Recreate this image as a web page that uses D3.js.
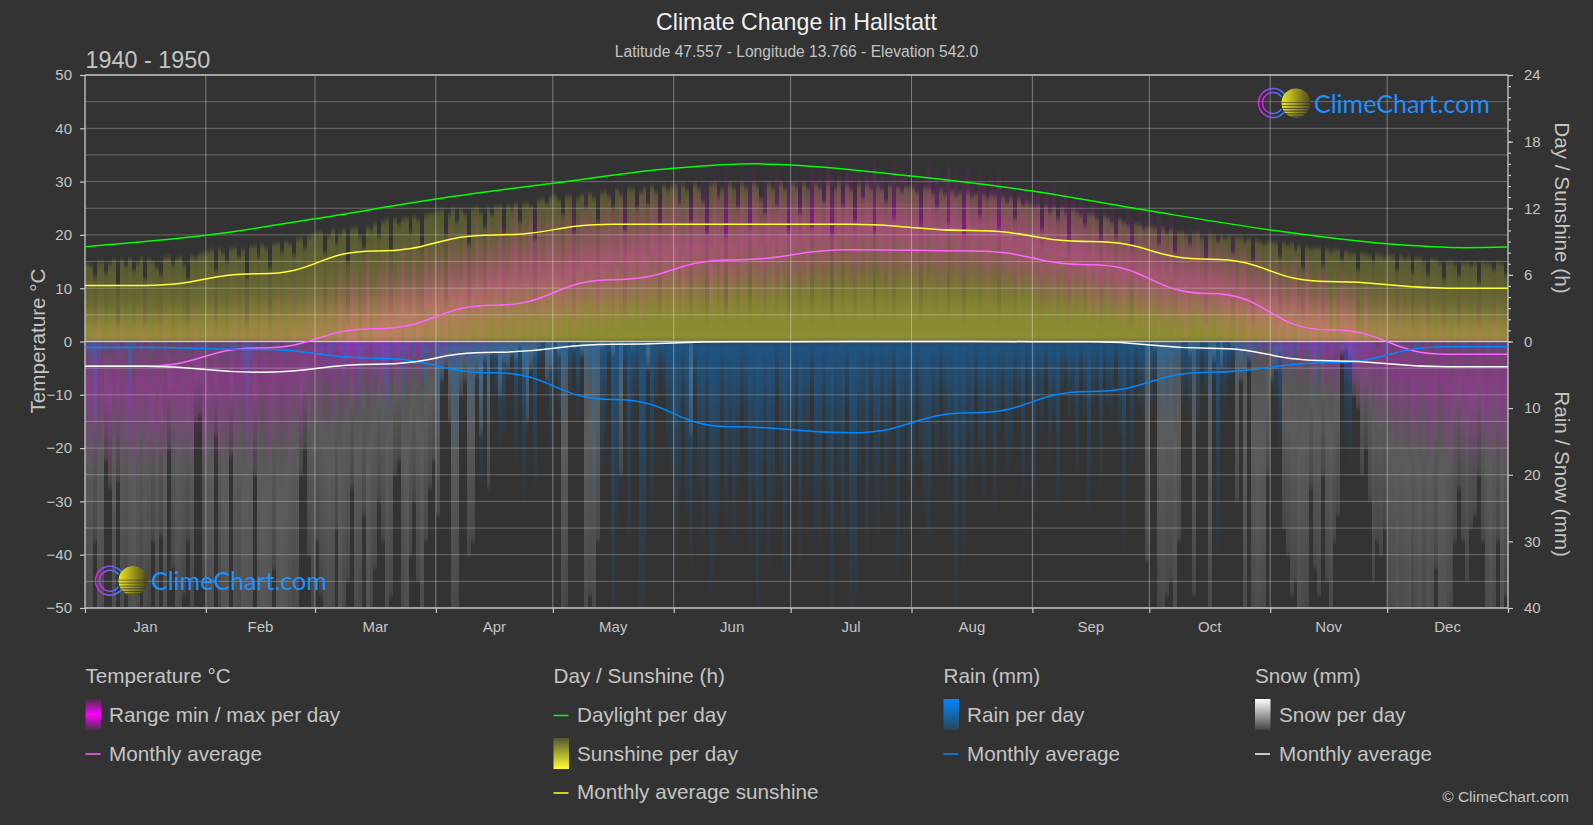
<!DOCTYPE html>
<html>
<head>
<meta charset="utf-8">
<title>Climate Change in Hallstatt</title>
<script src="https://cdn.jsdelivr.net/npm/d3@7"></script>
<style>
  html, body { margin: 0; padding: 0; background: #333333; overflow: hidden; }
  svg { display: block; }
  text { font-family: "Liberation Sans", Arial, sans-serif; fill: #c4c4c4; }
  .domain { display: none; }
</style>
</head>
<body>
<svg id="chart" width="1593" height="825"></svg>
<script>
const monthNames = ['Jan', 'Feb', 'Mar', 'Apr', 'May', 'Jun', 'Jul', 'Aug', 'Sep', 'Oct', 'Nov', 'Dec'];
const monthDays = [31, 28, 31, 30, 31, 30, 31, 31, 30, 31, 30, 31];

// monthly averages
const tempAvg = [-4.6, -1.2, 2.4, 6.8, 11.6, 15.3, 17.2, 17.0, 14.4, 9.0, 2.2, -2.4];
const sunAvg = [5.05, 6.1, 8.15, 9.6, 10.55, 10.55, 10.55, 10.0, 9.0, 7.4, 5.4, 4.8];
const rainAvg = [0.9, 1.2, 2.5, 4.7, 8.7, 12.8, 13.7, 10.7, 7.5, 4.6, 3.2, 0.8];
const snowAvg = [3.7, 4.6, 3.4, 1.6, 0.4, 0.05, 0, 0, 0.05, 1.0, 2.9, 3.8];

// daylight hours read at these days of the year
const daylightDays = [0, 31, 59, 90, 120, 151, 172, 181, 212, 243, 273, 304, 334, 354, 365];
const daylightHours = [8.54, 9.56, 11.05, 12.83, 14.25, 15.6, 16.0, 15.9, 14.9, 13.55, 11.77, 10.05, 8.8, 8.45, 8.5];

const sunDaily = [
  7.0,6.8,5.8,7.1,7.2,6.2,7.0,7.3,5.0,7.3,6.8,7.4,6.4,7.1,7.5,5.6,7.4,7.2,6.6,6.0,7.5,7.6,6.9,7.4,7.6,6.9,5.6,7.7,7.5,7.9,8.0,
  8.1,8.2,6.4,8.3,8.0,7.2,8.3,8.4,7.6,8.2,5.8,8.5,8.6,7.6,8.7,8.4,6.6,8.8,8.9,8.1,9.0,8.8,7.8,9.2,9.3,8.4,9.4,9.6,
  9.8,9.9,8.0,9.5,10.0,8.8,9.7,10.0,7.2,10.1,10.2,9.4,8.4,10.3,10.0,10.6,9.4,10.8,10.9,8.2,11.0,10.6,11.0,11.1,9.8,11.2,10.9,8.6,11.4,11.5,11.6,
  11.7,11.8,9.6,11.4,11.9,10.8,11.8,11.5,8.8,11.9,12.0,11.6,10.2,12.0,11.4,12.1,12.2,9.8,12.2,11.9,12.4,10.8,12.4,12.5,12.1,9.2,12.7,12.8,12.4,13.0,
  13.1,12.7,11.4,13.1,13.1,9.8,12.8,13.2,12.0,13.3,12.9,10.8,13.4,13.5,13.0,12.0,13.6,13.2,10.0,13.7,13.7,12.0,13.4,13.8,12.4,13.9,13.5,10.6,14.0,13.6,14.0,
  14.1,12.4,14.1,13.6,10.8,14.1,13.7,12.6,9.8,14.1,14.2,13.0,13.7,9.4,14.2,13.8,12.0,14.2,13.8,10.4,14.2,13.9,12.8,11.4,14.2,13.8,12.2,14.2,13.7,9.8,
  14.2,13.8,11.6,14.2,13.8,10.2,14.2,13.7,12.6,14.2,9.6,13.8,14.2,12.2,14.1,13.6,10.8,14.1,12.9,14.1,13.7,9.8,14.0,13.6,12.6,14.0,11.0,13.9,13.5,13.9,13.9,
  13.8,13.4,10.4,13.8,13.7,13.3,12.0,13.6,13.2,10.6,13.5,13.1,13.4,9.6,13.4,13.0,13.3,11.2,13.2,12.8,13.1,13.1,10.0,13.0,12.5,12.9,11.0,12.8,12.3,12.6,12.4,
  12.1,12.2,10.0,12.1,11.7,12.0,11.0,11.9,11.5,9.2,11.8,11.7,11.3,10.4,11.5,11.4,11.0,9.2,11.2,11.1,10.7,9.4,10.9,10.8,10.4,8.6,10.6,10.5,10.1,10.3,
  10.3,10.2,8.8,10.1,9.8,10.0,8.0,9.9,9.8,9.5,8.8,9.7,9.7,9.3,7.4,9.6,9.5,9.0,9.5,9.2,9.4,8.0,9.3,9.3,9.0,9.2,7.2,9.1,9.0,8.8,9.0,
  9.0,8.9,7.6,8.9,8.6,8.8,8.2,8.6,6.6,8.5,8.3,8.4,8.4,6.8,8.3,8.1,8.2,8.2,7.4,8.1,7.9,8.0,6.4,8.0,7.9,7.7,7.2,7.9,7.8,7.6,
  7.8,7.7,6.4,7.7,7.4,7.6,6.2,7.5,7.5,7.2,6.0,7.4,7.3,7.1,5.6,7.2,7.2,6.9,6.0,7.1,7.1,6.8,7.1,5.4,7.1,7.0,6.9,6.4,7.1,7.0,6.0
];

const tempMaxDaily = [
  7,5,8,9,6,4,7,8,5,9,6,3,5,8,7,9,6,4,7,5,8,6,3,7,9,6,5,8,10,7,6,
  7,9,6,10,8,5,9,11,7,10,8,12,9,6,10,11,8,9,12,10,7,11,13,9,10,12,14,11,
  12,14,10,15,13,11,16,14,12,17,15,13,16,18,14,12,17,15,19,16,13,18,20,15,17,19,14,18,21,17,19,
  18,20,16,22,19,21,17,23,20,18,24,21,19,25,22,20,26,23,21,24,27,22,25,23,28,24,26,22,27,25,
  24,26,22,27,25,28,23,26,29,25,27,24,28,26,29,27,25,30,28,26,29,27,30,28,26,31,29,27,30,28,31,
  29,31,27,30,28,32,29,31,30,28,32,30,29,33,31,28,30,32,29,31,33,30,28,32,31,29,33,31,30,32,
  31,33,30,32,29,34,31,33,30,35,32,30,33,31,34,32,30,33,31,34,32,35,31,33,30,32,34,31,33,32,30,
  31,33,30,32,34,31,33,30,32,35,31,33,30,32,34,31,29,33,31,30,32,30,33,29,31,30,28,31,29,30,28,
  29,31,27,30,28,31,26,29,30,27,28,26,29,27,25,28,26,24,27,25,26,24,25,23,26,24,22,25,23,24,
  24,22,25,23,21,24,22,20,23,21,22,20,23,19,21,22,18,21,19,20,18,21,17,19,20,16,19,17,18,16,17,
  16,18,15,17,14,16,18,13,15,17,14,12,15,16,13,11,14,12,15,13,11,14,12,10,13,11,12,10,13,11,
  11,9,12,10,8,11,9,7,10,12,8,10,7,9,11,8,6,9,7,10,8,6,9,11,7,8,6,9,10,7,8
];

const tempMinDaily = [
  -24,-22,-26,-20,-25,-23,-27,-21,-24,-19,-26,-22,-28,-24,-20,-25,-23,-27,-21,-26,-22,-24,-18,-25,-23,-20,-26,-24,-22,-19,-23,
  -24,-21,-25,-22,-26,-20,-23,-25,-19,-22,-24,-26,-21,-23,-18,-22,-25,-20,-23,-19,-21,-24,-18,-20,-22,-17,-19,-16,
  -15,-18,-13,-16,-19,-12,-14,-17,-11,-15,-13,-16,-10,-12,-15,-9,-13,-11,-14,-8,-10,-12,-7,-11,-9,-6,-10,-8,-5,-7,-6,
  -6,-4,-7,-3,-5,-6,-2,-4,-5,-1,-3,-4,-2,-3,0,-2,-3,-1,-2,0,-1,-2,1,-1,0,-2,1,0,-1,1,
  0,-1,1,0,2,-1,1,2,0,3,1,2,0,3,2,4,1,3,2,4,3,5,2,4,3,5,4,6,3,5,4,
  4,6,3,5,7,4,6,5,7,3,6,8,5,7,4,6,8,5,7,9,6,8,5,7,9,6,8,7,9,8,
  7,9,8,10,7,9,11,8,10,9,11,8,10,12,9,11,8,10,12,9,11,10,12,9,11,8,10,12,9,11,10,
  10,8,11,9,12,10,8,11,9,10,12,9,11,8,10,9,11,8,10,7,9,11,8,10,7,9,8,6,9,7,8,
  6,7,5,8,6,4,7,5,6,3,5,7,4,6,3,5,2,4,6,3,5,2,4,1,3,5,2,3,1,2,
  1,3,0,2,1,3,0,2,1,-1,1,2,0,1,-1,0,2,-1,0,-2,-1,0,-3,-1,-2,-4,-2,-3,-5,-3,-4,
  -5,-4,-7,-5,-8,-6,-4,-9,-7,-5,-10,-8,-6,-11,-9,-12,-8,-13,-6,-7,-8,-11,-13,-15,-12,-16,-14,-17,-15,-18,
  -17,-20,-18,-22,-19,-21,-24,-20,-23,-18,-22,-25,-21,-19,-24,-22,-26,-20,-23,-21,-25,-22,-27,-20,-24,-22,-26,-23,-21,-25,-23
];

const rainDaily = [
  2,6,16,3,1,2,1,1,3,0,2,14,3,0,2,0,1,2,0,1,2,0,1,1,2,0,1,0,1,1,2,
  1,0,1,0,2,1,2,3,0,6,16,4,1,0,2,1,0,1,2,0,3,1,0,2,1,0,1,0,
  2,4,1,6,3,1,2,8,4,2,3,10,4,2,1,6,3,10,14,3,2,4,12,3,2,5,1,6,9,3,2,
  14,8,4,6,18,16,6,4,14,10,8,22,6,12,5,8,16,14,6,4,18,6,24,14,5,22,4,3,8,16,
  6,10,14,6,8,4,12,3,10,6,24,8,20,14,4,42,28,10,6,30,12,8,44,42,6,26,10,5,8,16,20,
  36,24,12,26,34,8,22,30,14,38,33,26,12,28,20,30,22,10,16,32,24,42,30,18,34,26,8,22,36,18,
  24,12,34,18,22,8,29,30,14,26,42,16,22,30,10,44,40,20,16,32,12,24,30,14,26,18,8,36,20,14,28,
  22,10,18,26,30,14,20,8,16,24,18,42,20,34,14,22,8,18,24,12,16,26,14,10,20,18,8,12,24,6,10,
  28,10,14,6,18,12,25,8,6,12,10,20,6,12,26,10,8,22,6,10,12,4,14,32,8,18,6,10,12,6,
  12,6,10,14,8,16,6,4,10,8,12,6,14,4,8,12,6,32,8,10,6,4,8,3,6,4,3,2,3,1,2,
  2,8,16,4,3,6,3,2,1,4,2,10,4,2,1,3,2,1,2,14,18,6,2,3,1,2,1,0,1,2,
  1,0,1,2,0,1,0,3,1,0,1,0,2,1,0,1,0,0,1,2,1,0,1,1,0,2,1,0,1,1,0
];

const snowDaily = [
  44,46,30,52,48,18,22,50,21,45,38,52,60,42,36,48,40,30,46,29,55,16,34,50,44,38,30,42,12,11,36,
  48,55,14,40,60,66,17,52,44,70,62,58,20,64,72,68,60,34,70,74,66,50,42,48,20,16,32,40,
  30,38,45,52,46,28,60,42,36,22,50,44,26,58,40,34,24,30,46,38,20,18,42,52,32,24,36,48,30,22,18,
  26,6,4,12,44,42,8,6,32,30,5,14,3,22,2,2,8,3,4,2,3,1,5,12,4,2,1,0,6,4,
  0,2,44,40,0,1,0,2,44,38,42,30,1,0,0,2,0,20,0,0,1,0,0,0,4,0,0,0,0,0,0,
  0,0,0,0,14,0,0,0,0,0,0,0,0,0,0,0,0,0,0,0,0,0,0,0,0,0,0,0,0,0,
  0,0,0,0,0,0,0,0,0,0,0,0,0,0,0,0,0,0,0,0,0,0,0,0,0,0,0,0,0,0,0,
  0,0,0,0,0,0,0,0,0,0,0,0,0,0,0,0,0,0,0,0,0,0,0,0,0,0,0,0,0,0,0,
  0,0,0,0,0,0,0,0,0,0,0,0,0,0,0,0,0,0,0,0,0,0,0,0,0,0,0,0,0,33,
  0,1,40,42,38,36,46,30,0,0,2,38,1,0,0,42,3,0,4,0,0,1,24,6,45,3,42,50,48,44,20,
  6,4,2,28,32,38,36,50,44,40,22,34,38,20,36,42,30,26,2,1,3,8,10,20,16,24,36,30,32,28,
  44,48,55,46,52,58,40,48,60,42,56,50,34,62,60,48,40,30,22,30,36,28,26,20,30,46,52,44,30,58,38
];

const svg = d3.select('#chart');
const plot = { left: 85, right: 1508, top: 75, bottom: 608 };

const x = d3.scaleLinear().domain([0, 365]).range([plot.left, plot.right]);
const yTemp = d3.scaleLinear().domain([-50, 50]).range([plot.bottom, plot.top]);
const zero = yTemp(0);
const yHours = d3.scaleLinear().domain([0, 24]).range([zero, plot.top]);
const yMm = d3.scaleLinear().domain([0, 40]).range([zero, plot.bottom]);

const monthStarts = d3.cumsum([0].concat(monthDays));
const monthMids = monthDays.map((d, i) => monthStarts[i] + d / 2);

// gradients
const defs = svg.append('defs');
const addGradient = (id, stops) => {
  const g = defs.append('linearGradient').attr('id', id)
    .attr('x1', 0).attr('y1', 0).attr('x2', 0).attr('y2', 1);
  stops.forEach(s => g.append('stop')
    .attr('offset', s[0]).attr('stop-color', s[1]).attr('stop-opacity', s[2]));
};
addGradient('sunBar', [[0, '#ffff33', 0.18], [0.5, '#ffff33', 0.27], [0.8, '#ffff33', 0.42], [1, '#ffff33', 0.45]]);
addGradient('tempBar', [[0, '#ff00ff', 0], [0.5, '#ff00ff', 0.42], [1, '#ff00ff', 0]]);
addGradient('tempBarCold', [[0, '#ff00ff', 0], [0.5, '#ff00ff', 0.28], [1, '#ff00ff', 0]]);
addGradient('rainBar', [[0, '#0088ff', 0.4], [0.5, '#0088ff', 0.16], [1, '#0088ff', 0.03]]);
addGradient('snowBar', [[0, '#ffffff', 0.15], [0.35, '#ffffff', 0.2], [1, '#ffffff', 0.1]]);
addGradient('tempSwatch', [[0, '#ff00ff', 0.1], [0.5, '#ff00ff', 1], [1, '#ff00ff', 0.1]]);
addGradient('sunSwatch', [[0, '#55552f', 1], [1, '#ffff33', 1]]);
addGradient('rainSwatch', [[0, '#0088ff', 1], [1, '#2a4558', 1]]);
addGradient('snowSwatch', [[0, '#ffffff', 1], [1, '#444444', 1]]);

const addClip = (id, top, bottom) => defs.append('clipPath').attr('id', id).append('rect')
  .attr('x', plot.left).attr('y', top)
  .attr('width', plot.right - plot.left).attr('height', bottom - top);
addClip('plotClip', plot.top, plot.bottom);
addClip('upperClip', plot.top, zero);
addClip('lowerClip', zero, plot.bottom);

const soft = defs.append('filter').attr('id', 'soft')
  .attr('filterUnits', 'userSpaceOnUse')
  .attr('x', 0).attr('y', 0).attr('width', 1593).attr('height', 825)
  .attr('color-interpolation-filters', 'sRGB');
soft.append('feGaussianBlur').attr('stdDeviation', '0.6 2.5');

// daily bars, softened so the columns melt together at their ends
const barLayer = (clipId, values, attrs) => {
  const g = svg.append('g').attr('clip-path', `url(#${clipId})`)
    .append('g').attr('filter', 'url(#soft)').attr('shape-rendering', 'crispEdges');
  g.selectAll('rect').data(values).enter().append('rect')
    .attr('x', (d, i) => x(i)).attr('width', x(1) - x(0))
    .attr('y', attrs.y).attr('height', attrs.height)
    .attr('fill', attrs.fill);
};

barLayer('lowerClip', snowDaily, { y: zero, height: d => yMm(d) - zero, fill: 'url(#snowBar)' });
barLayer('lowerClip', rainDaily, { y: zero, height: d => yMm(d) - zero, fill: 'url(#rainBar)' });
barLayer('plotClip', tempMaxDaily, {
  y: d => yTemp(d),
  height: (d, i) => yTemp(tempMinDaily[i]) - yTemp(d),
  fill: (d, i) => d + tempMinDaily[i] < 0 ? 'url(#tempBarCold)' : 'url(#tempBar)'
});
barLayer('upperClip', sunDaily, { y: d => yHours(d), height: d => zero - yHours(d), fill: 'url(#sunBar)' });

// grid
const grid = svg.append('g');
grid.selectAll('.h').data(d3.range(-45, 50, 5).filter(d => d !== 0)).enter().append('line')
  .attr('x1', plot.left).attr('x2', plot.right)
  .attr('y1', d => yTemp(d)).attr('y2', d => yTemp(d))
  .attr('stroke', '#ffffff').attr('stroke-opacity', 0.28).attr('stroke-width', 1);
grid.selectAll('.v').data(monthStarts.slice(1, 12)).enter().append('line')
  .attr('y1', plot.top).attr('y2', plot.bottom)
  .attr('x1', d => x(d)).attr('x2', d => x(d))
  .attr('stroke', '#ffffff').attr('stroke-opacity', 0.36).attr('stroke-width', 1);

// frame
const frame = svg.append('g').attr('stroke', '#c8c8c8').attr('stroke-width', 1.3);
[plot.top, zero, plot.bottom].forEach(y => frame.append('line')
  .attr('x1', plot.left).attr('x2', plot.right).attr('y1', y).attr('y2', y));
[plot.left, plot.right].forEach(v => frame.append('line')
  .attr('x1', v).attr('x2', v).attr('y1', plot.top).attr('y2', plot.bottom));

// axes
const styleAxis = g => {
  g.selectAll('line').attr('stroke', '#c8c8c8').attr('stroke-width', 1.2);
  g.selectAll('text').style('font-size', '15px').style('fill', '#c4c4c4');
};

svg.append('g').attr('transform', `translate(${plot.left},0)`)
  .call(d3.axisLeft(yTemp).tickValues(d3.range(-50, 51, 10)).tickSize(5).tickPadding(8))
  .call(styleAxis);

svg.append('g').attr('transform', `translate(${plot.right},0)`)
  .call(d3.axisRight(yHours).tickValues(d3.range(0, 25, 6)).tickSize(5).tickPadding(11))
  .call(styleAxis);

svg.append('g').attr('transform', `translate(${plot.right},0)`)
  .call(d3.axisRight(yHours).tickValues(d3.range(0, 25, 1)).tickSize(3).tickFormat(''))
  .call(styleAxis);

svg.append('g').attr('transform', `translate(${plot.right},0)`)
  .call(d3.axisRight(yMm).tickValues(d3.range(10, 41, 10)).tickSize(5).tickPadding(11))
  .call(styleAxis);

svg.append('g').attr('transform', `translate(0,${plot.bottom})`)
  .call(d3.axisBottom(x).tickValues(monthStarts).tickSize(5).tickFormat(''))
  .call(styleAxis);

svg.append('g').selectAll('text').data(monthNames).enter().append('text')
  .attr('x', (d, i) => x(monthMids[i])).attr('y', 632)
  .attr('text-anchor', 'middle').style('font-size', '15px')
  .text(d => d);

// lines
const monthlyLine = (values, yScale, color, width) => {
  const pts = [[0, values[0]]]
    .concat(values.map((v, i) => [monthMids[i], v]))
    .concat([[365, values[11]]]);
  svg.append('path').datum(pts)
    .attr('clip-path', 'url(#plotClip)')
    .attr('fill', 'none').attr('stroke', color).attr('stroke-width', width)
    .attr('d', d3.line().x(d => x(d[0])).y(d => yScale(d[1])).curve(d3.curveBumpX));
};

svg.append('path').datum(daylightDays.map((d, i) => [d, daylightHours[i]]))
  .attr('fill', 'none').attr('stroke', '#00ff00').attr('stroke-width', 1.5)
  .attr('d', d3.line().x(d => x(d[0])).y(d => yHours(d[1])).curve(d3.curveMonotoneX));

monthlyLine(tempAvg, yTemp, '#ff66ff', 1.5);
monthlyLine(sunAvg, yHours, '#ffff33', 1.5);
monthlyLine(rainAvg, yMm, '#0088ff', 1.5);
monthlyLine(snowAvg, yMm, '#ffffff', 1.5);

// titles
const label = (text, px, py, size, opts = {}) => {
  const t = svg.append('text').attr('x', px).attr('y', py)
    .attr('text-anchor', opts.anchor || 'start')
    .style('font-size', size + 'px')
    .style('fill', opts.color || '#c4c4c4')
    .text(text);
  if (opts.rotate) t.attr('transform', `rotate(${opts.rotate} ${px} ${py})`);
  return t;
};

label('Climate Change in Hallstatt', 796.5, 30, 23.2, { anchor: 'middle', color: '#f0f0f0' });
label('Latitude 47.557 - Longitude 13.766 - Elevation 542.0', 796.5, 57, 15.6, { anchor: 'middle' });
label('1940 - 1950', 85.5, 68, 23.4);
label('Temperature °C', 45, 341, 20.7, { anchor: 'middle', rotate: -90 });
label('Day / Sunshine (h)', 1555, 208, 20.7, { anchor: 'middle', rotate: 90 });
label('Rain / Snow (mm)', 1555, 474, 20.7, { anchor: 'middle', rotate: 90 });

// legend
const lineKey = (px, py, color) => svg.append('line')
  .attr('x1', px).attr('x2', px + 15).attr('y1', py).attr('y2', py)
  .attr('stroke', color).attr('stroke-width', 1.5);
const barKey = (px, py, id) => svg.append('rect')
  .attr('x', px).attr('y', py).attr('width', 15.5).attr('height', 31)
  .attr('fill', `url(#${id})`);

label('Temperature °C', 85.5, 683, 20.7);
barKey(85.5, 699, 'tempSwatch');
label('Range min / max per day', 109, 722, 20.7);
lineKey(85.5, 754, '#ff66ff');
label('Monthly average', 109, 761, 20.7);

label('Day / Sunshine (h)', 553.5, 683, 20.7);
lineKey(553.5, 715.5, '#00ff00');
label('Daylight per day', 577, 722, 20.7);
barKey(553.5, 738, 'sunSwatch');
label('Sunshine per day', 577, 761, 20.7);
lineKey(553.5, 793, '#ffff33');
label('Monthly average sunshine', 577, 799, 20.7);

label('Rain (mm)', 943.5, 683, 20.7);
barKey(943.5, 699, 'rainSwatch');
label('Rain per day', 967, 722, 20.7);
lineKey(943.5, 754, '#0088ff');
label('Monthly average', 967, 761, 20.7);

label('Snow (mm)', 1255, 683, 20.7);
barKey(1255, 699, 'snowSwatch');
label('Snow per day', 1279, 722, 20.7);
lineKey(1255, 754, '#ffffff');
label('Monthly average', 1279, 761, 20.7);

label('© ClimeChart.com', 1569, 802, 15.5, { anchor: 'end' });

// logo
const ringGrad = defs.append('linearGradient').attr('id', 'ringGrad');
ringGrad.append('stop').attr('offset', 0).attr('stop-color', '#e020f0');
ringGrad.append('stop').attr('offset', 1).attr('stop-color', '#2090ff');
const sunGrad = defs.append('linearGradient').attr('id', 'sunGrad');
sunGrad.append('stop').attr('offset', 0).attr('stop-color', '#f0e820');
sunGrad.append('stop').attr('offset', 1).attr('stop-color', '#4a4620');
defs.append('clipPath').attr('id', 'sunClip').append('circle').attr('r', 14.7);

const stripes = [[-1, 0.7], [2, 0.8], [5, 0.9], [7.6, 1.1], [10.2, 1.3], [12.6, 1.5]];

const drawLogo = (cx, cy) => {
  const g = svg.append('g').attr('transform', `translate(${cx},${cy})`);
  [14.5, 10.5].forEach(r => g.append('path')
    .attr('d', d3.arc().innerRadius(r - 0.75).outerRadius(r + 0.75)
      .startAngle(Math.PI * 0.7).endAngle(Math.PI * 2.3)())
    .attr('fill', 'url(#ringGrad)'));
  const sun = g.append('g').attr('transform', 'translate(23,0)');
  const inner = sun.append('g').attr('clip-path', 'url(#sunClip)');
  inner.append('circle').attr('r', 14.7).attr('fill', 'url(#sunGrad)');
  stripes.forEach(s => inner.append('rect')
    .attr('x', -15).attr('width', 30).attr('y', s[0]).attr('height', s[1])
    .attr('fill', '#333333').attr('fill-opacity', 0.8));
  g.append('text').attr('x', 41).attr('y', 9.5)
    .style('font-family', 'Lato, sans-serif')
    .style('font-size', '25px').style('fill', '#1e90ff')
    .text('ClimeChart.com');
};
drawLogo(1273, 103);
drawLogo(110, 580.7);
</script>
</body>
</html>
